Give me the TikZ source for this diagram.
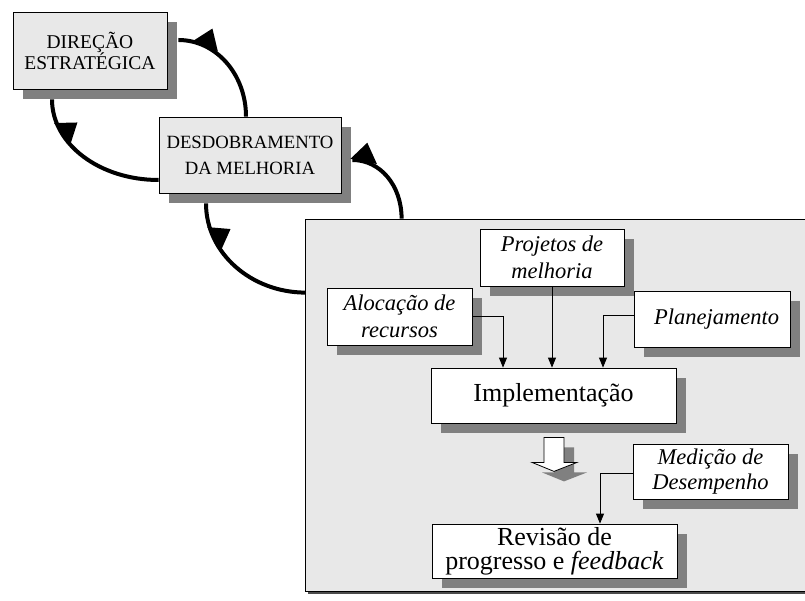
\documentclass[tikz,border=0pt]{standalone}
\usepackage{fontspec}
\setmainfont{Liberation Serif}
\usetikzlibrary{calc,shadows,arrows.meta,decorations.markings}

\definecolor{panelgray}{HTML}{E8E8E8}
\definecolor{shadowgray}{HTML}{808080}

\tikzset{
  box/.style={draw=black, line width=0.8pt, inner sep=0pt, align=center},
  boxshadow/.style={drop shadow={shadow xshift=10pt, shadow yshift=-10pt, fill=shadowgray, opacity=1}},
  graybox/.style={box, fill=panelgray, boxshadow},
  whitebox/.style={box, fill=white, boxshadow},
  panelbox/.style={draw=black, line width=0.8pt, fill=panelgray,
    drop shadow={shadow xshift=2.5pt, shadow yshift=-2.5pt, fill=black!70, opacity=1}},
  upfont/.style={font=\fontsize{19.5}{21}\selectfont},
  labelfont/.style={font=\fontsize{22.5}{27}\selectfont\itshape},
  bigfont/.style={font=\fontsize{26}{24}\selectfont},
  feed/.style={line width=0.8pt, -{Triangle[width=8pt,length=10pt]}},
  hollow/.style={draw=black, line width=0.8pt, fill=white, boxshadow},
  cycle arrow/.style={line width=4pt, postaction={decorate},
    decoration={markings, mark=at position #1 with {\fill (14,-1) -- (2,19) -- (-13,1) -- cycle;}}}
}

\begin{document}
\begin{tikzpicture}[x=1pt, y=-1pt]
  \useasboundingbox (0,0) rectangle (805,601);
  \clip (0,0) rectangle (805,601);

  % implementation panel
  \node[panelbox, minimum width=510pt, minimum height=372pt, inner sep=0pt] (panel) at (560,405) {};

  % strategy boxes
  \node[graybox, upfont, minimum width=154pt, minimum height=77pt] (dir) at (90,50.5) {DIREÇÃO\\ESTRATÉGICA};
  \node[graybox, font=\fontsize{18.7}{26}\selectfont, minimum width=182pt, minimum height=76pt] (desd) at (250,155) {DESDOBRAMENTO\\DA MELHORIA};

  % cycle arcs
  \draw[cycle arrow=0.75] ($(desd.north)+(-4,0)$) .. controls +(0,-42.5) and +(37.5,0) .. ($(dir.east)+(11,-10.5)$);
  \draw[cycle arrow=0.75] ($(desd.west)+(0,25)$) .. controls +(-59,0) and +(0,44.7) .. ($(dir.south)+(-38,10)$);
  \draw[cycle arrow=0.75] ($(panel.north west)+(1,74)$) .. controls +(-54,0) and +(0,50) .. ($(desd.south)+(-44,10)$);
  \draw[cycle arrow=0.86] ($(panel.north west)+(97,0)$) .. controls +(0,-33) and +(28,0) .. ($(desd.east)+(11,5)$);

  % inputs
  \node[whitebox, labelfont, minimum width=144pt, minimum height=57pt] (proj) at (552,257.5) {Projetos de\\melhoria};
  \node[whitebox, labelfont, minimum width=145pt, minimum height=57pt] (aloc) at (399.5,316.5) {Alocação de\\recursos};
  \node[whitebox, labelfont, minimum width=156pt, minimum height=56pt] (plan) at (712,319) {\hspace{9pt}Planejamento};
  \node[whitebox, bigfont, minimum width=245pt, minimum height=55pt] (impl) at (553.5,395.5) {Implementação};
  \node[whitebox, labelfont, font=\fontsize{22.5}{25}\selectfont\itshape, minimum width=155pt, minimum height=55pt] (med) at (710.5,471.5) {Medição de\\Desempenho};
  \node[whitebox, bigfont, minimum width=245pt, minimum height=54pt] (rev) at (554.5,551) {Revisão de\\progresso e \textit{feedback}};

  \draw[feed] (aloc.east) -| ($(impl.north)+(-50.5,0)$);
  \draw[feed] (proj.south) -- (proj.south |- impl.north);
  \draw[feed] ($(plan.west)+(0,-4)$) -| ($(impl.north)+(49.5,0)$);
  \draw[feed] ($(med.west)+(0,1.5)$) -| ($(rev.north)+(45.5,0)$);

  % hollow flow arrow from implementation to review
  \coordinate (flow) at ($(impl.south)+(0.5,14)$);
  \path[hollow] (flow) ++(-10,0) -- ++(20,0) -- ++(0,25) -- ++(13,0) -- ++(-23,9) -- ++(-22,-9) -- ++(12,0) -- cycle;
\end{tikzpicture}
\end{document}
